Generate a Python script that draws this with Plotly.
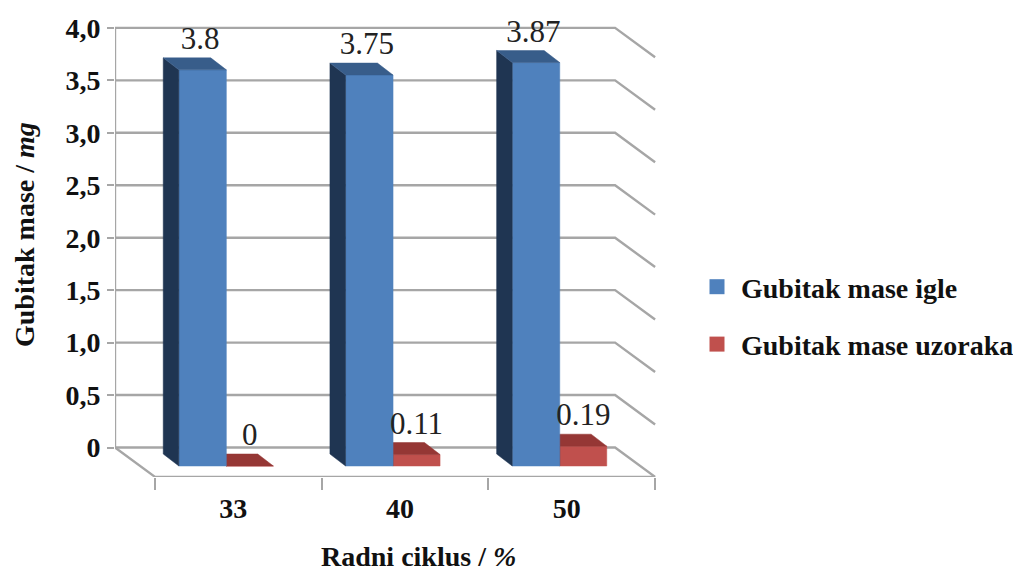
import plotly.graph_objects as go

categories = ["33", "40", "50"]
needle_loss = [3.8, 3.75, 3.87]
sample_loss = [0, 0.11, 0.19]
needle_labels = ["3.8", "3.75", "3.87"]
sample_labels = ["0", "0.11", "0.19"]
y_ticks = [0, 0.5, 1, 1.5, 2, 2.5, 3, 3.5, 4]
y_tick_labels = ["0", "0,5", "1,0", "1,5", "2,0", "2,5", "3,0", "3,5", "4,0"]

PAGE = 8   # default page margin of the written html
W, H = 1021 - PAGE, 572 - PAGE
L, R, T, B = 115 - PAGE, 657 - PAGE, 20 - PAGE, 477 - PAGE
CAT_PX = 166.7
X0_PX = 155 - PAGE
WALL_SCALE, WALL_ZERO = 104.9, 447.5 - PAGE
BAR_SCALE, BAR_ZERO = 104.25, 466 - PAGE

WALL_DX, WALL_DY = 0.24, 0.28          # floor depth (category, value units)
BAR_DX, BAR_DY = 0.0936, 0.115         # bar depth
BLUE = ("#4F81BD", "#1F3552", "#385D8A")
RED = ("#C0504D", "#7A2C2A", "#953735")
GRID = "#A6A6A6"
SERIF = "Liberation Serif"

fig = go.Figure()


def wire(xs, ys):
    fig.add_trace(go.Scatter(x=xs, y=ys, mode="lines", showlegend=False, hoverinfo="skip",
                             line=dict(color=GRID, width=2.4), cliponaxis=False))


n = len(categories)
for t in y_ticks:
    wire([-WALL_DX, n - WALL_DX, n], [t, t, t - WALL_DY])
wire([-WALL_DX, -WALL_DX], [0, y_ticks[-1]])
wire([-WALL_DX, 0, n], [0, -WALL_DY, -WALL_DY])


def face(xs, ys, color):
    fig.add_trace(go.Scatter(x=xs, y=ys, yaxis="y2", mode="lines", fill="toself", fillcolor=color,
                             line=dict(color=color, width=0.5), showlegend=False, hoverinfo="skip",
                             cliponaxis=False))


def bar(x0, x1, v, colors):
    front, side, top = colors
    face([x0, x1, x1, x0, x0], [0, 0, v, v, 0], front)
    face([x0 - BAR_DX, x0, x0, x0 - BAR_DX, x0 - BAR_DX],
         [BAR_DY, 0, v, v + BAR_DY, BAR_DY], side)
    face([x0, x1, x1 - BAR_DX, x0 - BAR_DX, x0], [v, v, v + BAR_DY, v + BAR_DY, v], top)


OFF0, OFF1, OFF2 = 0.143, 0.428, 0.71
for i in range(n):
    bar(i + OFF1, i + OFF2, sample_loss[i], RED)
for i in range(n):
    bar(i + OFF0, i + OFF1, needle_loss[i], BLUE)

LIFT = 0.275
fig.add_trace(go.Scatter(
    x=[i + (OFF0 + OFF1) / 2 - 0.015 for i in range(n)] + [i + (OFF1 + OFF2) / 2 for i in range(n)],
    y=[v + LIFT for v in needle_loss] + [v + LIFT for v in sample_loss],
    text=needle_labels + sample_labels, yaxis="y2", mode="text", textposition="middle center",
    textfont=dict(family=SERIF, size=31, color="#222222"), showlegend=False, hoverinfo="skip",
    cliponaxis=False))

for name, colors in (("Gubitak mase igle", BLUE), ("Gubitak mase uzoraka", RED)):
    fig.add_trace(go.Scatter(x=[None], y=[None], mode="markers", name=name, legendgroup=name,
                             marker=dict(symbol="square", size=15, color=colors[0])))

axis_font = dict(family=SERIF, size=28, color="#111111", weight="bold")
fig.update_layout(
    width=W, height=H, autosize=False,
    margin=dict(l=L, r=W - R, t=T, b=H - B, pad=0, autoexpand=False),
    paper_bgcolor="white", plot_bgcolor="white", showlegend=True,
    font=dict(family=SERIF),
    legend=dict(x=(693 - PAGE - L) / (R - L), y=(B - (262 - PAGE)) / (B - T),
                xanchor="left", yanchor="top", bgcolor="rgba(0,0,0,0)",
                font=dict(family=SERIF, size=28, color="#111111", weight="bold"),
                tracegroupgap=18, itemwidth=38, itemclick=False),
    xaxis=dict(range=[(L - X0_PX) / CAT_PX, (R - X0_PX) / CAT_PX], tickmode="array",
               tickvals=[i + 0.47 for i in range(n)], ticktext=categories,
               ticks="", showgrid=False, zeroline=False, showline=False, tickfont=axis_font,
               ticklabelstandoff=12,
               minor=dict(tickmode="array", tickvals=list(range(n + 1)), ticks="outside", ticklen=12,
                          tickwidth=2, tickcolor=GRID, showgrid=False)),
    yaxis=dict(range=[(WALL_ZERO - B) / WALL_SCALE, (WALL_ZERO - T) / WALL_SCALE], tickmode="array",
               tickvals=y_ticks, ticktext=y_tick_labels, ticks="outside", ticklen=7, tickwidth=2,
               tickcolor=GRID, showgrid=False, zeroline=False, showline=False, tickfont=axis_font,
               ticklabelstandoff=1),
    yaxis2=dict(range=[(BAR_ZERO - B) / BAR_SCALE, (BAR_ZERO - T) / BAR_SCALE], overlaying="y",
                visible=False, fixedrange=True),
    annotations=[
        dict(text="Radni ciklus / <i>%</i>", xref="paper", yref="paper",
             x=(418 - PAGE - L) / (R - L), y=(B - (556 - PAGE)) / (B - T),
             xanchor="center", yanchor="middle", showarrow=False, font=axis_font),
        dict(text="Gubitak mase / <i>mg</i>", xref="paper", yref="paper", textangle=-90,
             x=(24 - PAGE - L) / (R - L), y=(B - (235 - PAGE)) / (B - T),
             xanchor="center", yanchor="middle", showarrow=False, font=axis_font),
    ],
)
fig.write_html("out.html")
